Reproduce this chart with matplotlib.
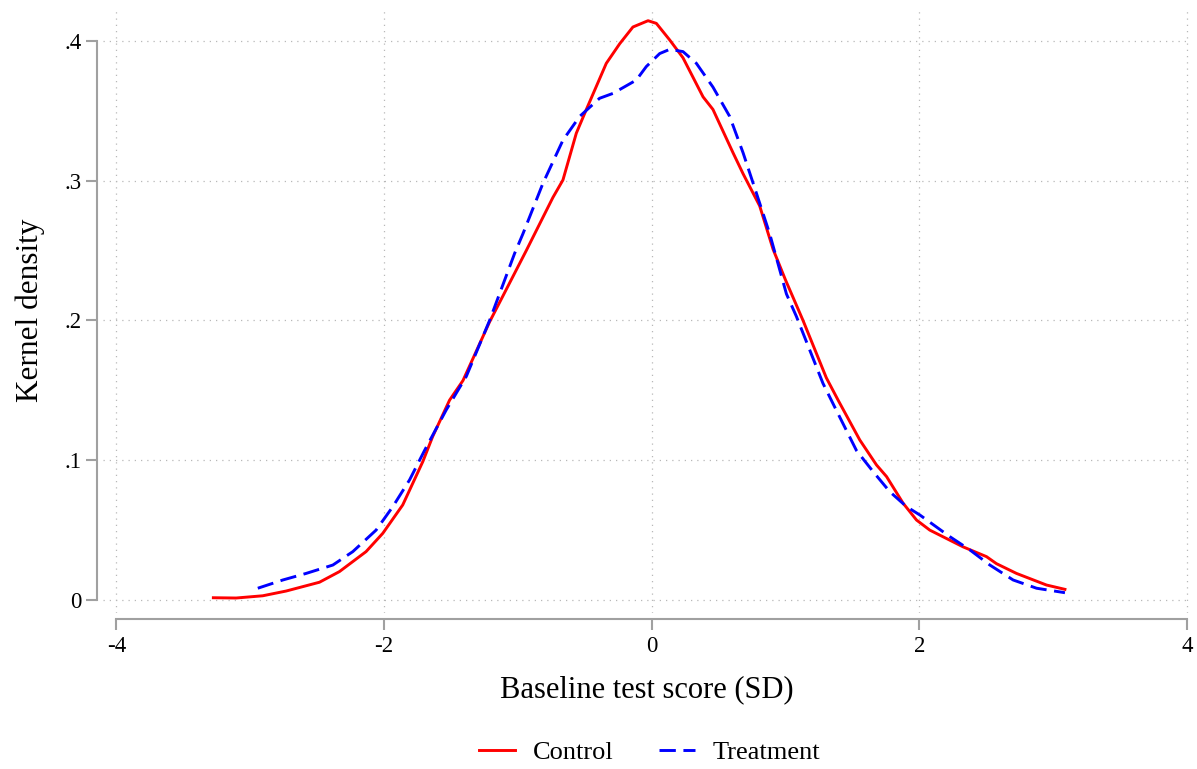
import matplotlib
matplotlib.use("Agg")
import matplotlib.pyplot as plt
import numpy as np

# kernel density curves
control_x = [-3.275, -3.105, -2.906, -2.731, -2.482, -2.333, -2.134, -2.009, -1.860, -1.710,
             -1.636, -1.510, -1.41, -1.211, -0.937, -0.738, -0.663, -0.563, -0.488, -0.339,
             -0.239, -0.140, -0.027, 0.035, 0.135, 0.234, 0.384, 0.458, 0.608, 0.683,
             0.807, 0.907, 1.0, 1.131, 1.305, 1.393, 1.555, 1.68, 1.755, 1.879,
             1.979, 2.078, 2.327, 2.502, 2.576, 2.726, 2.950, 3.088]
control_y = [0.0016, 0.0014, 0.003, 0.0064, 0.0127, 0.0203, 0.0346, 0.0477, 0.068, 0.099,
             0.117, 0.143, 0.157, 0.199, 0.250, 0.288, 0.3005, 0.334, 0.351, 0.384,
             0.398, 0.410, 0.4145, 0.4126, 0.4007, 0.388, 0.360, 0.351, 0.320, 0.305,
             0.282, 0.251, 0.229, 0.200, 0.159, 0.143, 0.1145, 0.0966, 0.0883, 0.0692,
             0.0572, 0.050, 0.038, 0.031, 0.026, 0.019, 0.0107, 0.0076]

treat_x = [-2.943, -2.756, -2.582, -2.382, -2.233, -2.059, -1.934, -1.809, -1.697, -1.535,
           -1.385, -1.211, -1.024, -0.962, -0.813, -0.663, -0.538, -0.389, -0.289, -0.115, -0.040,
           0.060, 0.135, 0.234, 0.334, 0.458, 0.583, 0.683, 0.783, 0.882, 1.007,
           1.081, 1.28, 1.368, 1.530, 1.655, 1.779, 1.904, 2.004, 2.228, 2.378, 2.527,
           2.701, 2.876, 3.088]
treat_y = [0.0084, 0.0143, 0.019, 0.025, 0.0346, 0.050, 0.0668, 0.0859, 0.107, 0.136,
           0.160, 0.200, 0.248, 0.262, 0.298, 0.329, 0.346, 0.359, 0.3625, 0.372, 0.3817,
           0.391, 0.394, 0.3924, 0.384, 0.367, 0.346, 0.320, 0.291, 0.262, 0.219,
           0.203, 0.155, 0.138, 0.107, 0.0918, 0.0775, 0.0668, 0.0608, 0.0453, 0.0358, 0.025,
           0.0143, 0.0084, 0.0052]

xticks = [-4, -2, 0, 2, 4]
yticks = [0, 0.1, 0.2, 0.3, 0.4]
ytick_labels = ["0", ".1", ".2", ".3", ".4"]

plt.rcParams['font.family'] = ['Liberation Serif', 'DejaVu Serif']

fig = plt.figure(figsize=(11.97, 7.69), dpi=100)
ax = fig.add_axes([0.086, 0.2029, 0.909, 0.7867])

ax.plot(control_x, control_y, color='red', lw=2.1, label='Control')
ax.plot(treat_x, treat_y, color='blue', lw=2.1, dashes=(5.6, 2.6), label='Treatment')

ax.set_xlim(-4.1, 4.03)
ax.set_ylim(-0.0093, 0.4236)
ax.set_xticks(xticks)
ax.set_xticklabels([str(t) for t in xticks])
ax.set_yticks(yticks)
ax.set_yticklabels(ytick_labels)

ax.grid(True, color='#b8b8b8', linestyle=(0, (1, 4)), linewidth=0.9)

for s in ['top', 'right']:
    ax.spines[s].set_visible(False)
ax.spines['left'].set_position(('outward', 4.5))
ax.spines['bottom'].set_position(('outward', 4.5))
ax.spines['left'].set_bounds(0, 0.4)
ax.spines['bottom'].set_bounds(-4, 4)
for s in ['left', 'bottom']:
    ax.spines[s].set_color('#a0a0a0')
    ax.spines[s].set_linewidth(1.5)
ax.tick_params(axis='both', colors='#a0a0a0', length=8, width=1.5, labelsize=16.5,
               labelcolor='black')
ax.tick_params(axis='y', pad=3)
ax.tick_params(axis='x', pad=4)

ax.set_xlabel('Baseline test score (SD)', fontsize=22, labelpad=13)
ax.set_ylabel('Kernel density', fontsize=22.5, labelpad=14)

# legend centred under the plot area, not the whole figure
fig.legend(loc='center', bbox_to_anchor=(0.543, 0.022), ncol=2, frameon=False,
           fontsize=19, handlelength=1.35, handletextpad=0.7, columnspacing=1.7)

fig.savefig('out.png', dpi=100)
